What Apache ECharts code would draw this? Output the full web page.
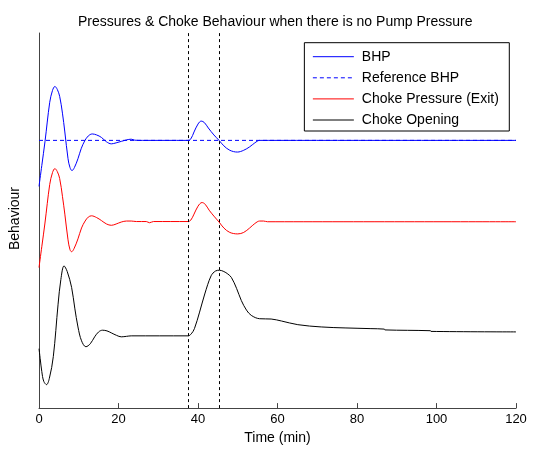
<!DOCTYPE html>
<html>
<head>
<meta charset="utf-8">
<script src="https://cdn.jsdelivr.net/npm/echarts@6/dist/echarts.min.js"></script>
<style>
  html, body { margin: 0; padding: 0; background: #fff; }
  #chart { width: 533px; height: 450px; }
</style>
</head>
<body>
<div id="chart"></div>
<script>
// Time axis ticks (min)
const timeTicks = [0, 20, 40, 60, 80, 100, 120];

// Event markers (min): choke action window
const eventTimes = [37.5, 45.3];

// Series values: [time (min), behaviour (arbitrary, stacked offsets)]
const bhp = [
  [0, 224], [0.7, 245], [1.5, 269], [2.7, 309], [3.4, 321], [4.0, 325], [4.6, 322],
  [5.2, 315], [5.9, 298], [6.5, 279], [7.3, 252], [7.8, 243], [8.3, 240], [8.9, 243],
  [9.8, 252], [10.6, 262], [11.5, 270], [12.4, 275], [13.4, 277], [14.5, 276],
  [15.7, 273.5], [17, 269], [18.2, 267], [19.4, 268], [20.7, 269.5], [22, 271],
  [23.2, 271.7], [24.1, 270.7], [26, 270.5], [37.5, 270.5], [38.2, 272], [39, 279],
  [40, 287], [40.8, 290], [41.6, 288.5], [42.6, 283], [44, 276], [45.3, 270.5],
  [46.5, 265], [48, 260.5], [49.9, 258.7], [51.5, 260.5], [53, 264], [54.3, 268],
  [55.5, 270.5], [120, 270.5]
];

const referenceBhp = [[0, 270.5], [120, 270.5]];

const chokePressure = [
  [0, 142], [0.7, 163], [1.5, 187], [2.7, 226], [3.4, 238], [4.0, 242], [4.6, 239],
  [5.2, 232], [5.9, 214], [6.5, 196], [7.3, 170], [7.8, 160], [8.2, 158], [8.8, 161],
  [9.8, 171], [10.7, 182], [11.6, 189], [12.4, 193], [13.2, 194.3], [14.5, 192.5],
  [15.7, 189.5], [17, 186], [18.2, 184.7], [19.4, 186], [20.7, 188], [22, 189],
  [23.2, 189], [24.5, 188.5], [27, 188.5], [27.8, 187.3], [28.8, 188.5], [37.5, 188.5],
  [38.2, 190], [39, 196], [40, 204], [41, 207.7], [41.8, 206], [42.8, 200], [44, 194],
  [45.3, 188], [46.5, 182], [48, 177.5], [50, 176], [51.5, 177.5], [53, 182],
  [54.3, 186.5], [55.5, 189], [56.5, 189], [57.5, 188.3], [120, 188.3]
];

const chokeOpening = [
  [0, 60], [0.3, 50], [0.7, 37], [1.2, 27], [1.9, 23.7], [2.6, 30], [3.6, 52],
  [4.8, 105], [5.5, 130], [6.3, 143.7], [7.1, 138], [8.2, 122], [9.0, 101], [9.8, 82],
  [10.7, 68], [11.8, 62], [12.9, 65], [14.0, 72], [15.0, 77], [16.0, 78.7], [17.1, 78],
  [18.2, 76], [19.5, 73.5], [20.7, 72], [22, 72.5], [23.2, 73], [37.5, 73], [38.3, 75],
  [39.1, 80.3], [40.4, 97], [41.7, 115.3], [43.3, 133.7], [44.4, 138.5], [45.4, 139.3],
  [46.5, 138], [47.5, 135.5], [48.4, 132], [49.7, 121], [50.9, 108.7], [52.2, 99],
  [53.4, 93.7], [55.5, 90.3], [58.4, 90], [61, 88], [65.1, 84.3], [71, 82], [77, 81],
  [83.5, 80.3], [86.9, 79.8], [87, 79], [98.5, 78.2], [98.6, 77.5], [120, 77]
];

const seriesNames = ['BHP', 'Reference BHP', 'Choke Pressure (Exit)', 'Choke Opening'];

const FONT = "'Liberation Sans', Arial, Helvetica, sans-serif";
const chart = echarts.init(document.getElementById('chart'), null, { renderer: 'canvas' });

const lineSeries = (name, data, color, type, extra) => Object.assign({
  name: name,
  type: 'line',
  data: data,
  symbol: 'none',
  smooth: 0.35,
  lineStyle: { color: color, width: 1, type: type },
  itemStyle: { color: color },
  z: 3
}, extra || {});

chart.setOption({
  animation: false,
  backgroundColor: '#fff',
  textStyle: { fontFamily: FONT },
  title: {
    text: 'Pressures & Choke Behaviour when there is no Pump Pressure',
    left: 73,
    top: 10,
    textStyle: { fontSize: 14, fontWeight: 'normal', color: '#000', fontFamily: FONT }
  },
  grid: { left: 37.5, right: 17, top: 33, bottom: 38, containLabel: false },
  legend: {
    data: seriesNames,
    orient: 'vertical',
    right: 23.7,
    top: 42.7,
    itemWidth: 41,
    itemHeight: 14,
    itemGap: 7.1,
    padding: [7, 10.5, 4, 8],
    backgroundColor: '#fff',
    borderColor: '#000',
    borderWidth: 1,
    borderRadius: 0,
    selectedMode: false,
    itemStyle: { opacity: 0 },
    lineStyle: { width: 1 },
    textStyle: { fontSize: 14, color: '#000', fontFamily: FONT, padding: [0, 0, 0, 3] }
  },
  xAxis: {
    type: 'value',
    min: timeTicks[0],
    max: timeTicks[timeTicks.length - 1],
    interval: timeTicks[1] - timeTicks[0],
    name: 'Time (min)',
    nameLocation: 'middle',
    nameGap: 21,
    nameTextStyle: { fontSize: 14, color: '#000', fontFamily: FONT },
    axisLine: { lineStyle: { color: '#444', width: 1 } },
    axisTick: { inside: true, length: 5, lineStyle: { color: '#444' } },
    axisLabel: { margin: 5, fontSize: 13, color: '#000', fontFamily: FONT },
    splitLine: { show: false }
  },
  yAxis: {
    type: 'value',
    min: 0,
    max: 379,
    name: 'Behaviour',
    nameLocation: 'middle',
    nameGap: 17,
    nameTextStyle: { fontSize: 14, color: '#000', fontFamily: FONT, padding: [0, 0, 0, 4] },
    axisLine: { show: true, lineStyle: { color: '#444', width: 1 } },
    axisTick: { show: false },
    axisLabel: { show: false },
    splitLine: { show: false }
  },
  series: [
    lineSeries(seriesNames[0], bhp, '#0000ff', 'solid', { z: 4 }),
    lineSeries(seriesNames[1], referenceBhp, '#0000ff', [4, 3], { smooth: false }),
    lineSeries(seriesNames[2], chokePressure, '#ff0000', 'solid'),
    lineSeries(seriesNames[3], chokeOpening, '#000000', 'solid', {
      markLine: {
        silent: true,
        symbol: 'none',
        label: { show: false },
        lineStyle: { color: '#000', width: 1, type: [3, 3] },
        data: eventTimes.map(t => ({ xAxis: t }))
      }
    })
  ]
});
</script>
</body>
</html>
